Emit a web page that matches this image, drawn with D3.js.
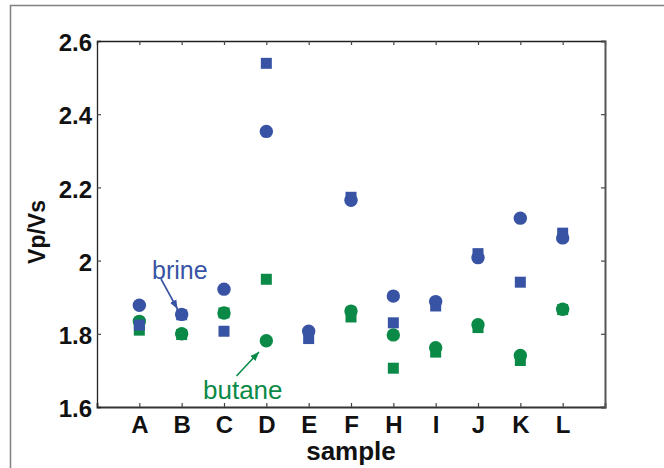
<!DOCTYPE html>
<html>
<head>
<meta charset="utf-8">
<script src="https://cdn.jsdelivr.net/npm/d3@7"></script>
<style>
  html, body { margin: 0; padding: 0; background: #fff; }
  svg { display: block; font-family: "Liberation Sans", Arial, sans-serif; }
</style>
</head>
<body>
<svg id="chart" width="664" height="468"></svg>
<script>
// samples along x
const samples = ['A','B','C','D','E','F','H','I','J','K','L'];
// Vp/Vs values (null = no point)
const brineCircle  = [1.878, 1.853, 1.922, 2.353, 1.807, 2.165, 1.903, 1.888, 2.008, 2.116, 2.062];
const brineSquare  = [1.824, 1.852, 1.807, 2.539, 1.787, 2.173, 1.830, 1.876, 2.019, 1.941, 2.075];
const butaneCircle = [1.834, 1.800, 1.857, 1.781, null,  1.862, 1.797, 1.762, 1.825, 1.741, 1.867];
const butaneSquare = [1.810, 1.798, 1.857, 1.949, null,  1.846, 1.706, 1.750, 1.817, 1.727, 1.866];
const yTicks = [1.6, 1.8, 2, 2.2, 2.4, 2.6];

const blue = '#3953a4', green = '#0b8a47';

(function () {
  const svg = d3.select('#chart');
  const m = {left: 97, top: 41, right: 605, bottom: 407};

  const x = d3.scaleLinear().domain([0, samples.length + 1]).range([m.left, m.right]);
  const y = d3.scaleLinear().domain([1.6, 2.6]).range([m.bottom, m.top]);

  // outer frame (only top and left visible)
  svg.append('path')
    .attr('d', 'M10.5,468 V5.5 H664')
    .attr('fill', 'none').attr('stroke', '#808080').attr('stroke-width', 1.5);

  // axes with inward ticks on all four sides
  const xt = samples.map((s, i) => i + 1);
  const g = svg.append('g');
  const axB = g.append('g').attr('transform', `translate(0,${m.bottom})`)
    .call(d3.axisBottom(x).tickValues(xt).tickSize(-4).tickFormat((d) => samples[d - 1]).tickPadding(9));
  const axT = g.append('g').attr('transform', `translate(0,${m.top})`)
    .call(d3.axisTop(x).tickValues(xt).tickSize(-4).tickFormat(''));
  const axL = g.append('g').attr('transform', `translate(${m.left},0)`)
    .call(d3.axisLeft(y).tickValues(yTicks).tickSize(-4).tickPadding(5).tickFormat(d3.format('')));
  const axR = g.append('g').attr('transform', `translate(${m.right},0)`)
    .call(d3.axisRight(y).tickValues(yTicks).tickSize(-4).tickFormat(''));

  [axB, axT, axL, axR].forEach(a => {
    a.select('.domain').attr('stroke', '#222').attr('stroke-width', 1.3);
    a.selectAll('.tick line').attr('stroke', '#444').attr('stroke-width', 1.2);
  });
  axR.select('.domain').attr('stroke', '#555').attr('stroke-width', 2);
  axB.select('.domain').attr('stroke', '#333').attr('stroke-width', 1.8);

  axB.selectAll('.tick text')
    .attr('font-size', 24).attr('font-weight', 'bold').attr('fill', '#111')
    .attr('font-family', '"Liberation Sans", Arial, sans-serif');
  axL.selectAll('.tick text')
    .attr('font-size', 24).attr('font-weight', 'bold').attr('fill', '#111')
    .attr('font-family', '"Liberation Sans", Arial, sans-serif')
    .attr('dy', '0.4em');
  axL.selectAll('.tick').filter(d => d === 1.6 || d === 2.6).select('line').remove();

  // axis titles
  svg.append('text').attr('x', (m.left + m.right) / 2).attr('y', 460)
    .attr('text-anchor', 'middle').attr('font-size', 26).attr('font-weight', 'bold')
    .attr('fill', '#111').text('sample');
  svg.append('text').attr('transform', `translate(45,${(m.top + m.bottom) / 2 + 8}) rotate(-90)`)
    .attr('text-anchor', 'middle').attr('font-size', 23).attr('font-weight', 'bold')
    .attr('fill', '#111').text('Vp/Vs');

  // markers: squares under circles, butane under brine
  const plot = svg.append('g');
  function squares(vals, color) {
    const s = 11;
    plot.append('g').selectAll('rect')
      .data(vals.map((v, i) => ({i, v})).filter(d => d.v != null))
      .join('rect')
      .attr('x', d => x(d.i + 1) - s / 2).attr('y', d => y(d.v) - s / 2)
      .attr('width', s).attr('height', s).attr('fill', color);
  }
  function circles(vals, color) {
    plot.append('g').selectAll('circle')
      .data(vals.map((v, i) => ({i, v})).filter(d => d.v != null))
      .join('circle')
      .attr('cx', d => x(d.i + 1)).attr('cy', d => y(d.v)).attr('r', 6.7).attr('fill', color);
  }
  squares(butaneSquare, green);
  circles(butaneCircle, green);
  squares(brineSquare, blue);
  circles(brineCircle, blue);

  // annotations
  const defs = svg.append('defs');
  [['ab', blue], ['ag', green]].forEach(([id, c]) => {
    defs.append('marker').attr('id', id).attr('viewBox', '0 0 10 10')
      .attr('refX', 10).attr('refY', 5).attr('markerWidth', 9).attr('markerHeight', 9)
      .attr('markerUnits', 'userSpaceOnUse').attr('orient', 'auto')
      .append('path').attr('d', 'M0,1 L10,5 L0,9 Z').attr('fill', c);
  });
  svg.append('text').attr('x', 152).attr('y', 279).attr('font-size', 25)
    .attr('fill', blue).text('brine');
  svg.append('line').attr('x1', 161).attr('y1', 279).attr('x2', 177.5).attr('y2', 309)
    .attr('stroke', blue).attr('stroke-width', 1.6).attr('marker-end', 'url(#ab)');
  svg.append('text').attr('x', 203).attr('y', 399).attr('font-size', 26)
    .attr('fill', green).text('butane');
  svg.append('line').attr('x1', 236.5).attr('y1', 376).attr('x2', 259).attr('y2', 352)
    .attr('stroke', green).attr('stroke-width', 1.6).attr('marker-end', 'url(#ag)');
})();
</script>
</body>
</html>
